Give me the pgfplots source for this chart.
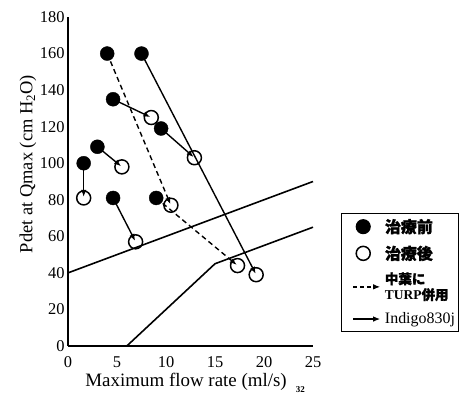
\documentclass[border=0pt]{standalone}
\usepackage{fontspec}
\setmainfont{Liberation Serif}
\newfontfamily\cjk[FakeBold=1.5]{Noto Sans CJK JP}
\usepackage{pgfplots}
\pgfplotsset{compat=1.18}
\usetikzlibrary{arrows.meta}
\tikzset{arr/.style={-{Latex[length=7bp,width=5.5bp]}}}
\pgfplotsset{
  markleg/.style={legend image code/.code={\path (0bp,0bp) (36bp,0bp); \draw[##1] plot coordinates {(19bp,0bp)};}},
  arrowleg/.style={legend image code/.code={\path (0bp,0bp) (36bp,0bp); \draw[##1, arr] (9bp,0bp) -- (36bp,0bp);}},
}
\begin{document}
\begin{tikzpicture}
\begin{axis}[
  scale only axis, width=245bp, height=329bp,
  xmin=0, xmax=25, ymin=0, ymax=180,
  axis x line=bottom, axis y line=left,
  axis line style={line width=2.2pt, -},
  xtick={0,5,...,25}, ytick={0,20,...,180},
  major tick length=0pt,
  /pgf/number format/assume math mode=true,
  tick label style={font=\fontsize{16.5}{17}\selectfont},
  xticklabel style={anchor=center, yshift=-16bp},
  xlabel={Maximum flow rate (ml/s)},
  ylabel={Pdet at Qmax (cm H\textsubscript{2}O)},
  xlabel style={font=\fontsize{19}{19}\selectfont, at={(axis description cs:0.482,0)}, anchor=center, yshift=-36bp, name=xl},
  ylabel style={font=\fontsize{18.5}{19}\selectfont, at={(axis description cs:0,0.553)}, anchor=center, yshift=40bp},
  clip=false,
  legend style={at={(1.114,0.043)}, anchor=south west, draw=black, line width=1.1pt,
    font=\fontsize{16}{17}\selectfont\bfseries, row sep=7.5bp, column sep=2bp,
    inner xsep=2bp, inner ysep=4bp, nodes={inner sep=2bp}},
  legend cell align=left,
]
\addlegendimage{black, mark=*, only marks, mark size=7bp, markleg}
\addlegendentry{\cjk 治療前}
\addlegendimage{black, mark=o, only marks, mark size=7bp, line width=1.5pt, markleg}
\addlegendentry{\cjk 治療後}
\addlegendimage{black, line width=1.3pt, dash pattern=on 4bp off 3bp, arrowleg}
\addlegendentry{\fontsize{13.5}{14}\selectfont\shortstack[l]{\cjk 中葉に\\TURP{\cjk 併用}}}
\addlegendimage{black, line width=1.3pt, arrowleg}
\addlegendentry{\fontsize{16}{17}\selectfont\mdseries Indigo830j}

% reference lines
\addplot[black, line width=1.6pt, forget plot] coordinates {(0,40) (25,90)};
\addplot[black, line width=1.6pt, forget plot] coordinates {(6,0) (15,45) (25,65)};

% arrows (solid)
\addplot[black, line width=1.4pt, arr, shorten >=1bp, forget plot] coordinates {(1.6,100) (1.6,81)};
\addplot[black, line width=1.4pt, arr, shorten >=1bp, forget plot] coordinates {(3.0,109) (5.5,98)};
\addplot[black, line width=1.4pt, arr, shorten >=1bp, forget plot] coordinates {(4.6,81) (6.9,57)};
\addplot[black, line width=1.4pt, arr, shorten >=1bp, forget plot] coordinates {(4.6,135) (8.5,125)};
\addplot[black, line width=1.4pt, arr, shorten >=1bp, forget plot] coordinates {(9.5,119) (12.9,103)};
\addplot[black, line width=1.4pt, arr, shorten >=1bp, forget plot] coordinates {(7.5,160) (19.2,39)};
% arrows (dashed)
\addplot[black, line width=1.4pt, dash pattern=on 5bp off 3.5bp, arr, shorten >=1bp, forget plot] coordinates {(4.0,160) (10.5,77)};
\addplot[black, line width=1.4pt, dash pattern=on 5bp off 3.5bp, arr, shorten >=1bp, forget plot] coordinates {(9.0,81) (17.3,44)};

% before treatment
\addplot[only marks, mark=*, mark size=7bp, black, forget plot] coordinates {
(1.6,100) (3.0,109) (4.6,81) (4.6,135) (9.5,119) (7.5,160) (4.0,160) (9.0,81)};
% after treatment
\addplot[only marks, mark=o, mark size=7bp, black, line width=1.5pt, forget plot] coordinates {
(1.6,81) (5.5,98) (6.9,57) (8.5,125) (12.9,103) (19.2,39) (10.5,77) (17.3,44)};
\end{axis}
\node[font=\fontsize{9}{9}\selectfont\bfseries, anchor=west] at ([xshift=2bp,yshift=-8bp]xl.east) {32};
\pgfresetboundingbox
\path ([xshift=-68bp,yshift=-50bp]current axis.south west) rectangle ([xshift=146bp,yshift=17bp]current axis.north east);
\end{tikzpicture}
\end{document}
